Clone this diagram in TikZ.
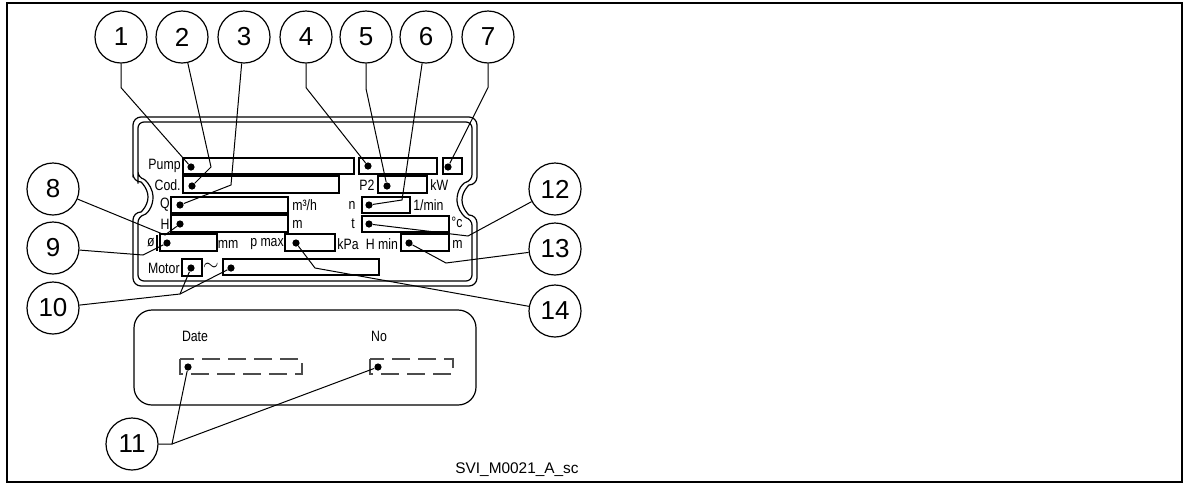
\documentclass[tikz,border=0pt]{standalone}
\usepackage{fontspec}
\setmainfont{Liberation Sans}
\newfontfamily\platefont[FakeStretch=0.82]{Liberation Sans}
\usetikzlibrary{positioning}
\tikzset{
  num/.style   = {circle, draw, line width=0.6pt, minimum size=26pt,
                  inner sep=0pt, font=\fontsize{13}{14}\selectfont},
  dot/.style   = {circle, fill, inner sep=0pt, minimum size=3.6pt},
  lbl/.style   = {inner sep=0pt, font=\platefont\fontsize{7.5}{8}\selectfont},
  lead/.style  = {line width=0.5pt},
  field/.style = {line width=0.6pt},
  blank/.style = {draw=black!70, line width=0.6pt,
                  dash pattern=on 9pt off 4pt}
}

\begin{document}
\begin{tikzpicture}[x=0.5pt,y=-0.5pt]
  \useasboundingbox (0,0) rectangle (1193,488);
  \draw[line width=1pt] (7,3) rectangle (1182,482);

  % rating plate, double outline with two notches
  \draw[field,rounded corners=4] (133,182) -- (133,117) -- (477,117) -- (477,185)
    arc[start angle=-90,end angle=-270,radius=15] -- (477,286) -- (133,286)
    -- (133,212) arc[start angle=90,end angle=-90,radius=15] -- cycle;
  \draw[field,rounded corners=3] (138,177.6) -- (138,122) -- (472,122) -- (472,180.6)
    arc[start angle=-104.5,end angle=-255.5,radius=20] -- (472,281) -- (138,281)
    -- (138,216.4) arc[start angle=75.5,end angle=-75.5,radius=20] -- cycle;

  % fields
  \draw[field] (183,158) rectangle (354,174);
  \draw[field] (359,158) rectangle (437,174);
  \draw[field] (443,158) rectangle (462,174);
  \draw[field] (183,176) rectangle (339,193);
  \draw[field] (378,176) rectangle (427,193);
  \draw[field] (171,197) rectangle (288,213);
  \draw[field] (362,197) rectangle (410,213);
  \draw[field] (171,215) rectangle (288,232);
  \draw[field] (362,216) rectangle (449,232);
  \draw[field] (157,235) -- (157,251);
  \draw[field] (160,234) rectangle (217,251);
  \draw[field] (285,234) rectangle (335,251);
  \draw[field] (401,234) rectangle (449,251);
  \draw[field] (182,259) rectangle (202,276);
  \draw[field] (223,259) rectangle (379,275);

  % labels
  \node[lbl,anchor=east] (lpump) at (181,166) {Pump};
  \node[lbl,anchor=east] (lcod) at (181,185) {Cod.};
  \node[lbl,anchor=east] (lq) at (170,205) {Q};
  \node[lbl,anchor=east] (lh) at (170,224) {H};
  \node[lbl] (ldia) at (151,243) {ø};
  \node[lbl,anchor=west] (lflow) at (292,205) {m³/h};
  \node[lbl,anchor=west] (lhm) at (292,224) {m};
  \node[lbl] (lp2) at (367,185) {P2};
  \node[lbl,anchor=west] (lkw) at (430,185) {kW};
  \node[lbl] (ln) at (352,205) {n};
  \node[lbl,anchor=west] (lrpm) at (413,205) {1/min};
  \node[lbl] (lt) at (353,224) {t};
  \node[lbl,anchor=west] (ldeg) at (451,222) {°c};
  \node[lbl] (lmm) at (228,244) {mm};
  \node[lbl] (lpmax) at (267,244) {p max};
  \node[lbl,anchor=west] (lkpa) at (337,244) {kPa};
  \node[lbl] (lhmin) at (382,244) {H min};
  \node[lbl,anchor=west] (lhminm) at (452,244) {m};
  \node[lbl,anchor=east] (lmotor) at (180,268) {Motor};
  \node[inner sep=0pt] (lac) at (211,267) {$\sim$};

  % dots
  \node[dot] (dpump) at (191,167) {};
  \node[dot] (dcod) at (192,186) {};
  \node[dot] (dq) at (180,205) {};
  \node[dot] (dh) at (180,224) {};
  \node[dot] (ddia) at (167,243) {};
  \node[dot] (dmotor) at (191,268) {};
  \node[dot] (dac) at (231,268) {};
  \node[dot] (dtype) at (368,166) {};
  \node[dot] (dp2) at (387,186) {};
  \node[dot] (dn) at (369,205) {};
  \node[dot] (dt) at (369,224) {};
  \node[dot] (dpmax) at (296,243) {};
  \node[dot] (dhmin) at (409,243) {};
  \node[dot] (dext) at (448,167) {};

  % date / number plate
  \draw[field,rounded corners=9] (134,310) rectangle (476,405);
  \node[lbl] (ldate) at (195,336) {Date};
  \node[lbl] (lno) at (379,336) {No};
  \draw[blank] (180,359) rectangle (302,374);
  \draw[blank] (370,359) rectangle (453,374);
  \node[dot] (ddate) at (188,367) {};
  \node[dot] (dno) at (378,367) {};

  % callouts
  \node[num] (n1) at (121,37) {1};
  \node[num] (n2) at (182,37) {2};
  \node[num] (n3) at (244,37) {3};
  \node[num] (n4) at (306,37) {4};
  \node[num] (n5) at (366,37) {5};
  \node[num] (n6) at (426,37) {6};
  \node[num] (n7) at (488,37) {7};
  \node[num] (n8) at (53,189) {8};
  \node[num] (n9) at (53,248) {9};
  \node[num] (n10) at (53,308) {10};
  \node[num] (n11) at (132,444) {11};
  \node[num] (n12) at (555,189) {12};
  \node[num] (n13) at (555,249) {13};
  \node[num] (n14) at (555,311) {14};

  \coordinate (j10) at (180,294);
  \coordinate (j11) at (172,444);

  \draw[lead] (n1.south) -- ++(0,24) -- (dpump);
  \draw[lead] (n2) -- (211,167) -- (dcod);
  \draw[lead] (n3) -- (231,185) -- (dq);
  \draw[lead] (n4.south) -- ++(0,24) -- (dtype);
  \draw[lead] (n5.south) -- ++(0,25) -- (dp2);
  \draw[lead] (n6) -- (402,200) -- (dn);
  \draw[lead] (n7.south) -- ++(0,24) -- (dext);
  \draw[lead] (n8) -- (165,235) -- (dh);
  \draw[lead] (n9) -- (143,255) -- (ddia);
  \draw[lead] (n10) -- (j10) -- (dmotor);
  \draw[lead] (j10) -- (dac);
  \draw[lead] (n11) -- (j11) -- (ddate);
  \draw[lead] (j11) -- (dno);
  \draw[lead] (n12) -- (468,236) -- (dt);
  \draw[lead] (n13) -- (446,263) -- (dhmin);
  \draw[lead] (n14) -- (315,268) -- (dpmax);

  \node[font=\fontsize{7.7}{9}\selectfont] (code) at (517,470) {SVI\_M0021\_A\_sc};
\end{tikzpicture}
\end{document}
